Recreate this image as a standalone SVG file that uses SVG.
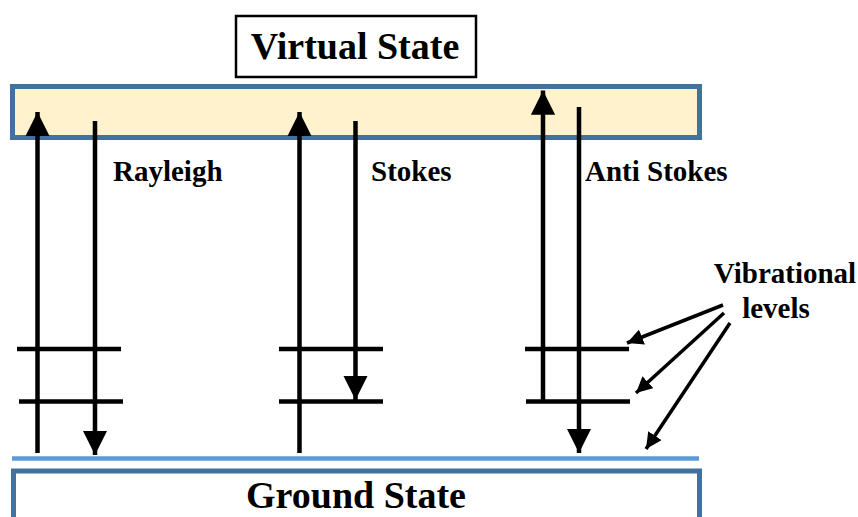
<svg xmlns="http://www.w3.org/2000/svg" width="858" height="517" viewBox="0 0 858 517">
  <defs>
    <marker id="head" viewBox="0 0 10 10" refX="10" refY="5" markerWidth="5.4" markerHeight="5.4" markerUnits="strokeWidth" orient="auto">
      <path d="M0,0 L10,5 L0,10 Z" fill="#000"/>
    </marker>
    <marker id="headSmall" viewBox="0 0 10 10" refX="10" refY="5" markerWidth="4.6" markerHeight="4.6" markerUnits="strokeWidth" orient="auto">
      <path d="M0,0 L10,5 L0,10 Z" fill="#000"/>
    </marker>
  </defs>
  <style>
    .title { font-family: "Liberation Serif", "Times New Roman", serif; font-weight: bold; font-size: 38px; fill: #000; }
    .label { font-family: "Liberation Serif", "Times New Roman", serif; font-weight: bold; font-size: 29px; fill: #000; }
    .level { stroke: #000; stroke-width: 4.5; fill: none; }
    .trans { stroke: #000; stroke-width: 4.5; fill: none; marker-end: url(#head); }
    .pointer { stroke: #000; stroke-width: 3.5; fill: none; marker-end: url(#headSmall); }
  </style>
  <rect width="858" height="517" fill="#fff"/>

  <!-- virtual state band -->
  <g id="virtual-band">
    <rect x="12.5" y="86.5" width="687" height="51" fill="#FFF2CC" stroke="#41719C" stroke-width="5"/>
  </g>

  <g id="virtual-label">
    <rect x="236" y="16" width="240" height="61" fill="#fff" stroke="#000" stroke-width="2.5"/>
    <text class="title" x="355" y="59" text-anchor="middle">Virtual State</text>
  </g>

  <!-- ground state -->
  <g id="ground-state">
    <line x1="12" y1="458.5" x2="699" y2="458.5" stroke="#5B9BD5" stroke-width="4.5"/>
    <rect x="13.5" y="471" width="686" height="60" fill="#fff" stroke="#41719C" stroke-width="5"/>
    <text class="title" x="356" y="508" text-anchor="middle">Ground State</text>
  </g>

  <!-- vibrational levels -->
  <g id="levels-rayleigh">
    <line class="level" x1="17" y1="349" x2="121" y2="349"/>
    <line class="level" x1="19" y1="401.5" x2="123" y2="401.5"/>
  </g>
  <g id="levels-stokes">
    <line class="level" x1="279" y1="349" x2="383" y2="349"/>
    <line class="level" x1="279" y1="401.5" x2="383" y2="401.5"/>
  </g>
  <g id="levels-antistokes">
    <line class="level" x1="525" y1="349" x2="629" y2="349"/>
    <line class="level" x1="526" y1="401.5" x2="630" y2="401.5"/>
  </g>

  <!-- transitions -->
  <g id="connectors">
    <line class="trans" x1="37.5" y1="453" x2="37.5" y2="112"/>
    <line class="trans" x1="95" y1="121" x2="95" y2="455"/>
    <line class="trans" x1="299.5" y1="453" x2="299.5" y2="112"/>
    <line class="trans" x1="355.5" y1="121" x2="355.5" y2="400"/>
    <line class="trans" x1="543" y1="401" x2="543" y2="90.5"/>
    <line class="trans" x1="579" y1="107" x2="579" y2="453"/>
    <line class="pointer" x1="723" y1="305" x2="627" y2="343"/>
    <line class="pointer" x1="724" y1="313" x2="636" y2="393"/>
    <line class="pointer" x1="730" y1="323" x2="646" y2="449"/>
  </g>

  <g id="labels">
    <text class="label" x="113" y="181">Rayleigh</text>
    <text class="label" x="371" y="181">Stokes</text>
    <text class="label" x="585" y="181">Anti Stokes</text>
    <text class="label" x="785" y="283" text-anchor="middle">Vibrational</text>
    <text class="label" x="776" y="318" text-anchor="middle">levels</text>
  </g>
</svg>
